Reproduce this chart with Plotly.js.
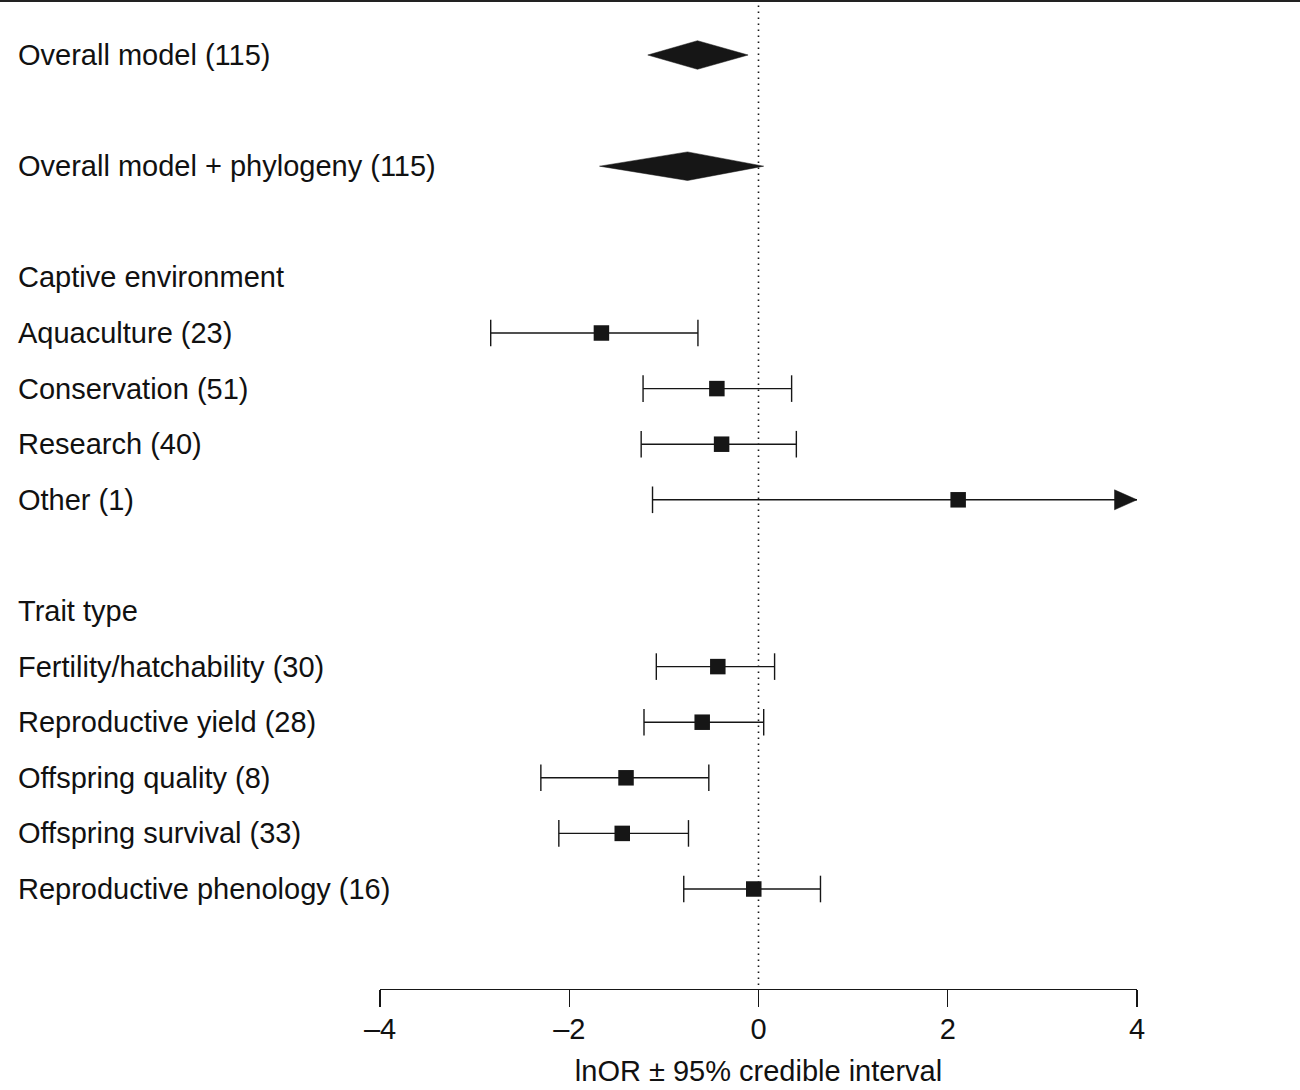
<!DOCTYPE html>
<html>
<head>
<meta charset="utf-8">
<script src="https://cdn.plot.ly/plotly-3.0.1.min.js"></script>
<style>
  html, body { margin: 0; padding: 0; background: #fff; }
  #chart { width: 1300px; height: 1090px; }
</style>
</head>
<body>
<div id="chart"></div>
<script>
// ---------------- data ----------------
const overallLabels = ["Overall model (115)", "Overall model + phylogeny (115)"];
const overallEst = [-0.645, -0.75];
const overallLo  = [-1.17, -1.68];
const overallHi  = [-0.11, 0.055];

const envHeader = "Captive environment";
const envLabels = ["Aquaculture (23)", "Conservation (51)", "Research (40)", "Other (1)"];
const envEst = [-1.66, -0.44, -0.39, 2.11];
const envLo  = [-2.83, -1.22, -1.24, -1.12];
const envHi  = [-0.64, 0.35, 0.40, 5.5];   // "Other" upper limit runs off the axis (arrow)

const traitHeader = "Trait type";
const traitLabels = ["Fertility/hatchability (30)", "Reproductive yield (28)", "Offspring quality (8)",
                     "Offspring survival (33)", "Reproductive phenology (16)"];
const traitEst = [-0.43, -0.595, -1.40, -1.44, -0.05];
const traitLo  = [-1.08, -1.21, -2.30, -2.11, -0.79];
const traitHi  = [0.17, 0.055, -0.525, -0.74, 0.655];

const xTicks = [-4, -2, 0, 2, 4];
const xTitle = "lnOR \u00b1 95% credible interval";

// ---------------- layout helpers ----------------
const W = 1300, H = 1090;
const mL = 380, mR = 163, mT = 0, mB = 101;
const plotW = W - mL - mR, plotH = H - mT - mB;
const xMin = -4, xMax = 4;
const pxPerUnit = plotW / (xMax - xMin);
const rowPx = 55.6;             // vertical spacing of rows in pixels
const firstRowPx = 55;          // pixel of first row from top of plot
const yTop = -firstRowPx / rowPx;
const yBottom = (plotH - firstRowPx) / rowPx;

const FONT = "Liberation Sans, Arial, Helvetica, sans-serif";
const INK = "#161616";
const FS = 29;

// assign row positions
let row = 0;
const labelRows = [];
const diamonds = [];
const items = [];
overallLabels.forEach((t, i) => {
  labelRows.push({text: t, y: row});
  diamonds.push({y: row, est: overallEst[i], lo: overallLo[i], hi: overallHi[i]});
  row += 2;
});
function addGroup(header, labs, est, lo, hi) {
  labelRows.push({text: header, y: row}); row += 1;
  labs.forEach((t, i) => {
    labelRows.push({text: t, y: row});
    items.push({y: row, est: est[i], lo: lo[i], hi: hi[i]});
    row += 1;
  });
  row += 1;
}
addGroup(envHeader, envLabels, envEst, envLo, envHi);
addGroup(traitHeader, traitLabels, traitEst, traitLo, traitHi);

const traces = [];

// diamonds
const dHalf = 14.3 / rowPx;
diamonds.forEach(d => {
  traces.push({
    type: "scatter", mode: "lines", fill: "toself",
    x: [d.lo, d.est, d.hi, d.est, d.lo],
    y: [d.y, d.y - dHalf, d.y, d.y + dHalf, d.y],
    line: {color: INK, width: 0.5}, fillcolor: INK,
    hoverinfo: "skip", showlegend: false, cliponaxis: false
  });
});

// CI segments
const segX = [], segY = [];
const capX = [], capY = [];
const arrows = [];
items.forEach(d => {
  const hiClip = Math.min(d.hi, xMax);
  segX.push(d.lo, hiClip, null); segY.push(d.y, d.y, null);
  capX.push(d.lo); capY.push(d.y);
  if (d.hi <= xMax) { capX.push(d.hi); capY.push(d.y); }
  else arrows.push(d);
});
traces.push({
  type: "scatter", mode: "lines", x: segX, y: segY,
  line: {color: INK, width: 1.4}, hoverinfo: "skip", showlegend: false, cliponaxis: false
});
traces.push({
  type: "scatter", mode: "markers", x: capX, y: capY,
  marker: {symbol: "line-ns-open", size: 19, color: INK, line: {color: INK, width: 1.4}},
  hoverinfo: "skip", showlegend: false, cliponaxis: false
});
// arrows for truncated intervals
const aLen = 22.5 / pxPerUnit, aHalf = 10 / rowPx;
arrows.forEach(d => {
  traces.push({
    type: "scatter", mode: "lines", fill: "toself",
    x: [xMax, xMax - aLen, xMax - aLen, xMax],
    y: [d.y, d.y - aHalf, d.y + aHalf, d.y],
    line: {color: INK, width: 0.5}, fillcolor: INK,
    hoverinfo: "skip", showlegend: false, cliponaxis: false
  });
});
// point estimates
traces.push({
  type: "scatter", mode: "markers",
  x: items.map(d => d.est), y: items.map(d => d.y),
  marker: {symbol: "square", size: 15.5, color: INK, line: {width: 0}},
  hoverinfo: "skip", showlegend: false, cliponaxis: false
});

const annotations = labelRows.map(r => ({
  text: r.text, xref: "paper", x: (16 - mL) / plotW, xanchor: "left",
  yref: "y", y: r.y, yanchor: "middle", showarrow: false,
  font: {family: FONT, size: FS, color: "#111"}
}));

const layout = {
  width: W, height: H,
  margin: {l: mL, r: mR, t: mT, b: mB, pad: 0},
  paper_bgcolor: "#fff", plot_bgcolor: "#fff",
  showlegend: false,
  font: {family: FONT, color: "#111"},
  xaxis: {
    range: [xMin, xMax], tickvals: xTicks, ticktext: xTicks.map(v => v < 0 ? "\u2013" + Math.abs(v) : String(v)),
    ticks: "outside", ticklen: 17, tickwidth: 1.4, tickcolor: INK,
    showline: true, linewidth: 1.4, linecolor: INK,
    showgrid: false, zeroline: false, fixedrange: true,
    ticklabelstandoff: -3,
    tickfont: {family: FONT, size: FS, color: "#111"},
    title: {text: xTitle, font: {family: FONT, size: FS, color: "#111"}, standoff: 16},
    automargin: false
  },
  yaxis: {range: [yBottom, yTop], visible: false, fixedrange: true},
  annotations: annotations,
  shapes: [
    {type: "line", xref: "x", x0: 0, x1: 0, yref: "paper", y0: 4 / plotH, y1: 1,
     line: {color: INK, width: 1.6, dash: "1.6px,4.4px"}, layer: "below"},
    {type: "line", xref: "paper", x0: -mL / plotW, x1: (W - mL) / plotW,
     yref: "paper", y0: 1 - 1 / plotH, y1: 1 - 1 / plotH,
     line: {color: "#222", width: 2}}
  ]
};

Plotly.newPlot("chart", traces, layout, {displayModeBar: false, staticPlot: true});
</script>
</body>
</html>
